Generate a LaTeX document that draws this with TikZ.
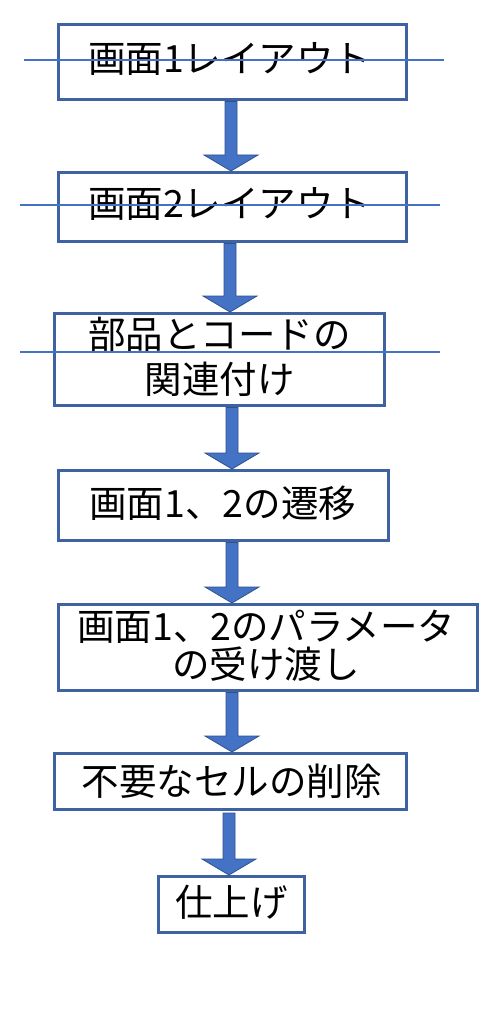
\documentclass[tikz,border=0pt]{standalone}
\usepackage{fontspec}
\usetikzlibrary{calc}
\newfontfamily\jp{Noto Sans CJK JP}
\definecolor{boxline}{HTML}{3F62A3}
\definecolor{arrfill}{HTML}{4472C4}
\definecolor{arrline}{HTML}{2F528F}
\tikzset{
  stepbox/.style={draw=boxline, line width=3.4pt, fill=white, inner sep=0pt, anchor=north west},
  steptext/.style={inner sep=0pt, align=center, font=\jp\fontsize{37.5}{44.5}\selectfont},
  strike/.style={draw=arrfill, line width=1.1pt},
  blk/.style={fill=arrfill, draw=arrline, line width=0.8pt, line join=miter},
}
\newcommand\blkarr[2]{%
  \path[blk] ($(#1)+(-6,0)$) -- ($(#2)+(-6,-16)$) -- ($(#2)+(-27,-16)$) -- (#2)
    -- ($(#2)+(27,-16)$) -- ($(#2)+(6,-16)$) -- ($(#1)+(6,0)$) -- cycle;}
\begin{document}
\begin{tikzpicture}[x=1pt,y=-1pt]
\useasboundingbox[fill=white] (0,0) rectangle (494,1024);
% boxes
\node[stepbox, minimum width=348pt, minimum height=75pt] (b1) at (57,23) {};
\node[stepbox, minimum width=348pt, minimum height=69pt] (b2) at (57,171) {};
\node[stepbox, minimum width=330pt, minimum height=92pt] (b3) at (53,312) {};
\node[stepbox, minimum width=330pt, minimum height=70pt] (b4) at (57,469) {};
\node[stepbox, minimum width=419pt, minimum height=86pt] (b5) at (57,603) {};
\node[stepbox, minimum width=352pt, minimum height=56pt] (b6) at (53,752) {};
\node[stepbox, minimum width=146pt, minimum height=56pt] (b7) at (157,875) {};
% texts
\node[steptext] (t1) at ([xshift=-3pt,yshift=3.5pt]b1.center) {画面1レイアウト};
\node[steptext] (t2) at ([xshift=-3pt,yshift=3pt]b2.center) {画面2レイアウト};
\node[steptext] (t3) at ([yshift=2.7pt]b3.center) {部品とコードの\\関連付け};
\node[steptext] (t4) at ([xshift=-1pt,yshift=2pt]b4.center) {画面1、2の遷移};
\node[steptext, font=\jp\fontsize{37.5}{38}\selectfont] (t5) at ([xshift=-2pt,yshift=2pt]b5.center) {画面1、2のパラメータ\\の受け渡し};
\node[steptext] (t6) at ([xshift=1pt]b6.center) {不要なセルの削除};
\node[steptext] (t7) at ([yshift=2.5pt]b7.center) {仕上げ};
% strike lines
\coordinate (l1a) at (24,60);  \coordinate (l1b) at (444,60);
\coordinate (l2a) at (20,205); \coordinate (l2b) at (440,205);
\coordinate (l3a) at (20,352); \coordinate (l3b) at (440,352);
\draw[strike] (l1a) -- (l1b);
\draw[strike] (l2a) -- (l2b);
\draw[strike] (l3a) -- (l3b);
% arrows
\coordinate (a1s) at (231,0 |- b1.south); \coordinate (a1t) at (231,0 |- b2.north);
\coordinate (a2s) at (230,0 |- b2.south); \coordinate (a2t) at (230,0 |- b3.north);
\coordinate (a3s) at (232,0 |- b3.south); \coordinate (a3t) at (232,0 |- b4.north);
\coordinate (a4s) at (232,0 |- b4.south); \coordinate (a4t) at (232,0 |- b5.north);
\coordinate (a5s) at (232,0 |- b5.south); \coordinate (a5t) at (232,0 |- b6.north);
\coordinate (a6s) at (229,813);           \coordinate (a6t) at (229,0 |- b7.north);
\blkarr{a1s}{a1t}
\blkarr{a2s}{a2t}
\blkarr{a3s}{a3t}
\blkarr{a4s}{a4t}
\blkarr{a5s}{a5t}
\blkarr{a6s}{a6t}
\end{tikzpicture}
\end{document}
